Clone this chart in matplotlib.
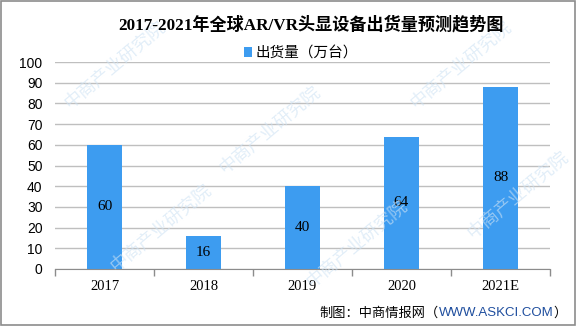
#!/usr/bin/env python3

import matplotlib
matplotlib.use("Agg")
import matplotlib.pyplot as plt
from matplotlib.patches import Rectangle

years = ["2017", "2018", "2019", "2020", "2021E"]
shipments = [60, 16, 40, 64, 88]
yticks = list(range(0, 101, 10))

title = "2017-2021年全球AR/VR头显设备出货量预测趋势图"
legend_label = "出货量（万台）"
source_parts = ["制图：中商情报网（", "WWW.ASKCI.COM", "）"]

CJK = ["Noto Sans CJK SC", "DejaVu Sans"]
BAR = "#3d9cf0"


def main():
    fig = plt.figure(figsize=(5.76, 3.26), dpi=100)
    ax = fig.add_axes([55 / 576, 57 / 326, 495 / 576, 207 / 326])

    # faint watermark, kept inside the frame
    for wx, wy in [(0.20, 0.80), (0.47, 0.60), (0.80, 0.80),
                   (0.62, 0.25), (0.28, 0.30), (0.90, 0.40)]:
        fig.text(wx, wy, "中商产业研究院", family=CJK, fontsize=13,
                 color="#cfe3f4", alpha=0.6, rotation=40,
                 ha="center", va="center", zorder=0)

    x = list(range(len(years)))
    bars = ax.bar(x, shipments, width=0.36, color=BAR, zorder=3,
                  label=legend_label)
    for b, v in zip(bars, shipments):
        ax.text(b.get_x() + b.get_width() / 2, v / 2, str(v),
                ha="center", va="center", fontsize=11,
                family="Liberation Serif", zorder=4)

    ax.set_xlim(-0.5, len(years) - 0.5)
    ax.set_ylim(0, 100)
    ax.set_yticks(yticks)
    ax.set_yticklabels([str(t) for t in yticks], family="Liberation Sans",
                       fontsize=10)
    ax.yaxis.grid(True, color="#bfbfbf", linewidth=1, zorder=0)
    ax.tick_params(axis="y", length=0, pad=9)

    ax.set_xticks([i - 0.5 for i in range(len(years) + 1)])
    ax.set_xticklabels([])
    ax.set_xticks(x, minor=True)
    ax.set_xticklabels(years, minor=True, family="Liberation Serif",
                       fontsize=10.5)
    ax.tick_params(axis="x", which="major", length=5, color="#8c8c8c",
                   width=1)
    ax.tick_params(axis="x", which="minor", length=0, pad=8)

    for s in ["top", "right", "left"]:
        ax.spines[s].set_visible(False)
    ax.spines["bottom"].set_color("#8c8c8c")
    ax.spines["bottom"].set_zorder(5)
    ax.patch.set_alpha(0)

    fig.text(0.54, 0.923, title, ha="center", va="center", fontsize=12.3,
             fontweight="bold", family=["Liberation Serif", "Noto Sans CJK SC"])

    fig.legend(loc="center", bbox_to_anchor=(0.522, 0.837),
               frameon=False, prop={"family": CJK, "size": 10.5},
               handlelength=0.6, handleheight=0.6, handletextpad=0.2)

    # source line, laid out right to left
    fig.canvas.draw()
    r = fig.canvas.get_renderer()
    xr = 567 / 576
    ys = 1 - 313 / 326
    styles = [dict(family=CJK, color="black"),
              dict(family="Liberation Sans", color="#1f4e9e"),
              dict(family=CJK, color="black")]
    for part, st in zip(reversed(source_parts), reversed(styles)):
        t = fig.text(xr, ys, part, ha="right", va="center", fontsize=9.5,
                     **st)
        xr = t.get_window_extent(r).x0 / fig.bbox.width

    fig.patches.append(Rectangle((0.001, 0.002), 0.997, 0.995,
                                 transform=fig.transFigure, fill=False,
                                 edgecolor="#8c8c8c", linewidth=1.2))

    fig.savefig("out.png", dpi=100)


if __name__ == "__main__":
    main()
